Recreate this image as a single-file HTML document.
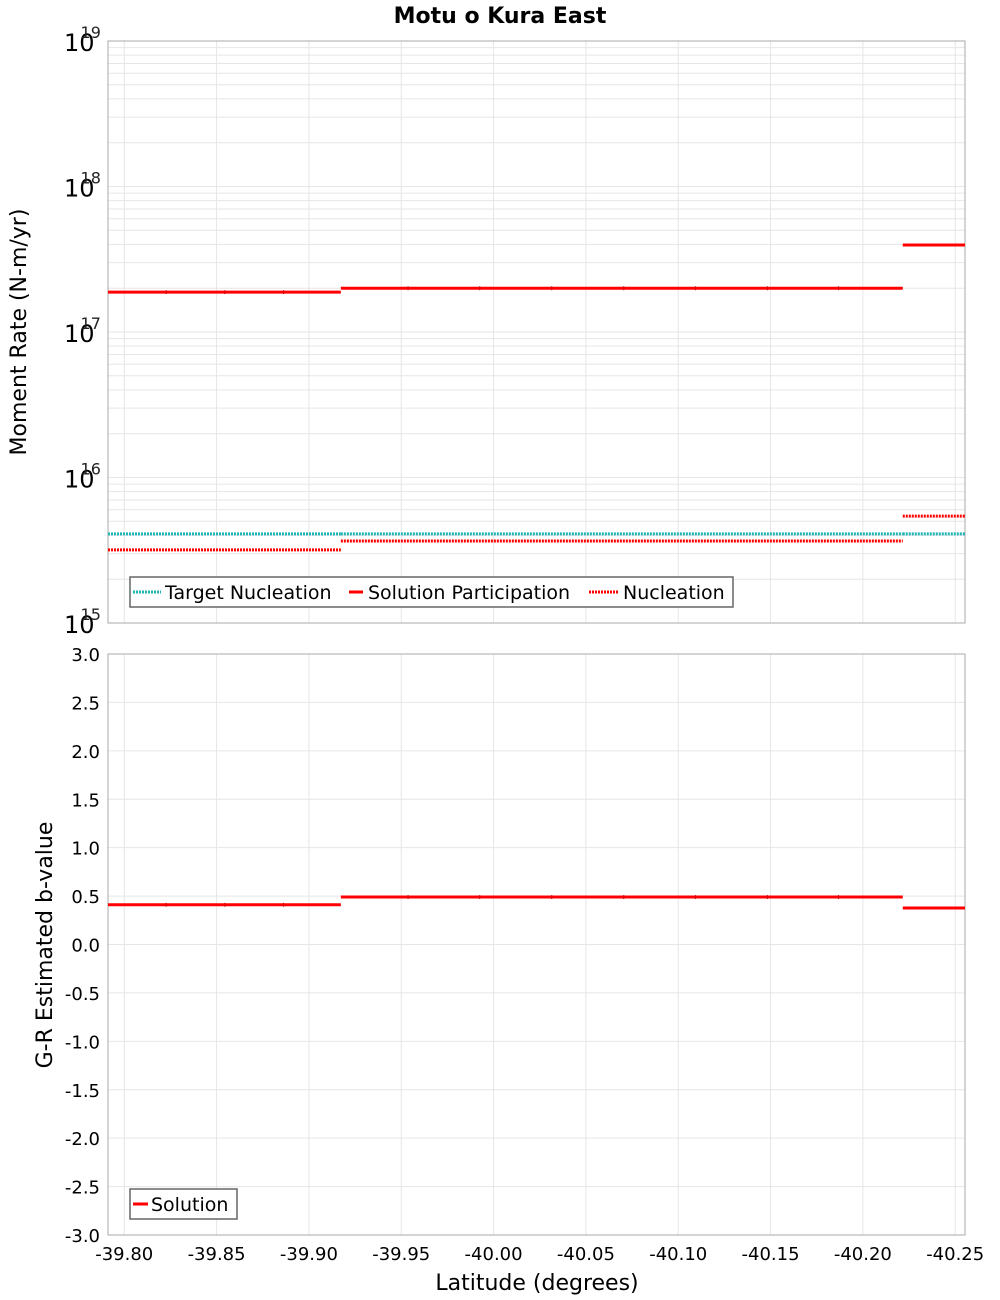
<!DOCTYPE html>
<html><head><meta charset="utf-8"><style>body{margin:0;background:#fff}svg{display:block;font-family:"DejaVu Sans","Liberation Sans",sans-serif}</style></head>
<body>
<svg id="chart" width="1000" height="1300" viewBox="0 0 1000 1300" xmlns="http://www.w3.org/2000/svg">
<text x="500" y="23" text-anchor="middle" font-weight="bold" font-size="22">Motu o Kura East</text>
<g id="topPanel"></g>
<g id="botPanel"></g>
<text x="537" y="1290" text-anchor="middle" font-size="22">Latitude (degrees)</text>
<text transform="translate(26,332) rotate(-90)" text-anchor="middle" font-size="22">Moment Rate (N-m/yr)</text>
<text transform="translate(52,945) rotate(-90)" text-anchor="middle" font-size="22">G-R Estimated b-value</text>
</svg>
<script>
const xTicks=[-39.80,-39.85,-39.90,-39.95,-40.00,-40.05,-40.10,-40.15,-40.20,-40.25];
const segEdges=[-39.7912,-39.9173,-40.2216,-40.2553];
const participation=[1.88e17,2.0e17,3.96e17];
const nucleation=[3.18e15,3.66e15,5.43e15];
const targetNucleation=[4.1e15,4.1e15,4.1e15];
const bValues=[0.41,0.49,0.377];
const decades=[15,16,17,18,19];
const bTicks=[3.0,2.5,2.0,1.5,1.0,0.5,0.0,-0.5,-1.0,-1.5,-2.0,-2.5,-3.0];
const subMarks=[-39.8227,-39.8545,-39.8863,-39.9537,-39.9925,-40.0315,-40.0705,-40.1094,-40.1483,-40.1868];

const NS="http://www.w3.org/2000/svg";
const PL=108,PR=965;
const X=v=>PL+(v-segEdges[0])/(segEdges[3]-segEdges[0])*(PR-PL);
const T0=41,T1=623,B0=654,B1=1235;
const YT=v=>T1-(Math.log10(v)-15)/4*(T1-T0);
const YB=v=>B1-(v+3)/6*(B1-B0);
function mk(p,tag,at,txt){const e=document.createElementNS(NS,tag);for(const k in at)e.setAttribute(k,at[k]);if(txt!==undefined)e.textContent=txt;p.appendChild(e);return e;}
const topG=document.getElementById('topPanel'),botG=document.getElementById('botPanel');
const grid='#e6e6e6';
for(let d=15;d<19;d++)for(let m=1;m<10;m++){const y=YT(m*Math.pow(10,d));if(m>1||d>15){const g=mk(topG,'line',{x1:PL,x2:PR,y1:y,y2:y,stroke:grid,'stroke-width':1});

}}
xTicks.forEach(t=>{[topG,botG].forEach((p,i)=>{const g=mk(p,'line',{x1:X(t),x2:X(t),y1:i?B0:T0,y2:i?B1:T1,stroke:grid,'stroke-width':1});

});});
bTicks.forEach(t=>{const g=mk(botG,'line',{x1:PL,x2:PR,y1:YB(t),y2:YB(t),stroke:grid,'stroke-width':1});


const lb=mk(botG,'text',{x:100,y:YB(t)+7,'text-anchor':'end','font-size':18},t.toFixed(1));

});
decades.forEach(d=>{const y=YT(Math.pow(10,d));const g=mk(topG,'text',{x:64,y:y+10,'font-size':24});


mk(g,'tspan',{},'10');mk(g,'tspan',{dx:'-14',dy:'-13','font-size':16,fill:'#222'},String(d));});
xTicks.forEach(t=>{const lb=mk(botG,'text',{x:X(t),y:1260,'text-anchor':'middle','font-size':18},t.toFixed(2));

});
[[T0,T1,topG],[B0,B1,botG]].forEach(([a,b,p])=>{const f=mk(p,'rect',{x:PL,y:a,width:PR-PL,height:b-a,fill:'none',stroke:'#aaa','stroke-width':1});

});
function seg(p,vals,Y,color,dash,name){for(let i=0;i<3;i++){const l=mk(p,'line',{x1:X(segEdges[i]),x2:X(segEdges[i+1]),y1:Y(vals[i]),y2:Y(vals[i]),stroke:color,'stroke-width':3});
if(dash)l.setAttribute('stroke-dasharray',dash);

}}
seg(topG,targetNucleation,YT,'#1fb5b5','2,1','target-nucleation-line');
seg(topG,nucleation,YT,'#f00','2,1','nucleation-line');
seg(topG,participation,YT,'#f00',null,'solution-participation-line');
seg(botG,bValues,YB,'#f00',null,'b-value-solution-line');
subMarks.forEach(s=>{const i=s>segEdges[1]?0:1;
const m1=mk(topG,'line',{x1:X(s),x2:X(s),y1:YT(participation[i])-2,y2:YT(participation[i])+2,stroke:'#c00','stroke-width':1});


const m2=mk(botG,'line',{x1:X(s),x2:X(s),y1:YB(bValues[i])-2,y2:YB(bValues[i])+2,stroke:'#c00','stroke-width':1});

});
const lg=mk(topG,'g',{});


mk(lg,'rect',{x:130,y:577,width:603,height:30,fill:'#fff',stroke:'#666','stroke-width':1.5});
[[133,161,'#1fb5b5','2,1','Target Nucleation',165],[349,363,'#f00',null,'Solution Participation',368],[589,619,'#f00','2,1','Nucleation',623]].forEach(([a,b,c,d,t,tx])=>{
const l=mk(lg,'line',{x1:a,x2:b,y1:592,y2:592,stroke:c,'stroke-width':3});if(d)l.setAttribute('stroke-dasharray',d);
const e=mk(lg,'text',{x:tx,y:599,'font-size':19},t);

});
const lg2=mk(botG,'g',{});


mk(lg2,'rect',{x:130,y:1189,width:107,height:30,fill:'#fff',stroke:'#666','stroke-width':1.5});
mk(lg2,'line',{x1:133,x2:148,y1:1204,y2:1204,stroke:'#f00','stroke-width':3});
const e2=mk(lg2,'text',{x:151,y:1211,'font-size':19},'Solution');


</script>
</body></html>
